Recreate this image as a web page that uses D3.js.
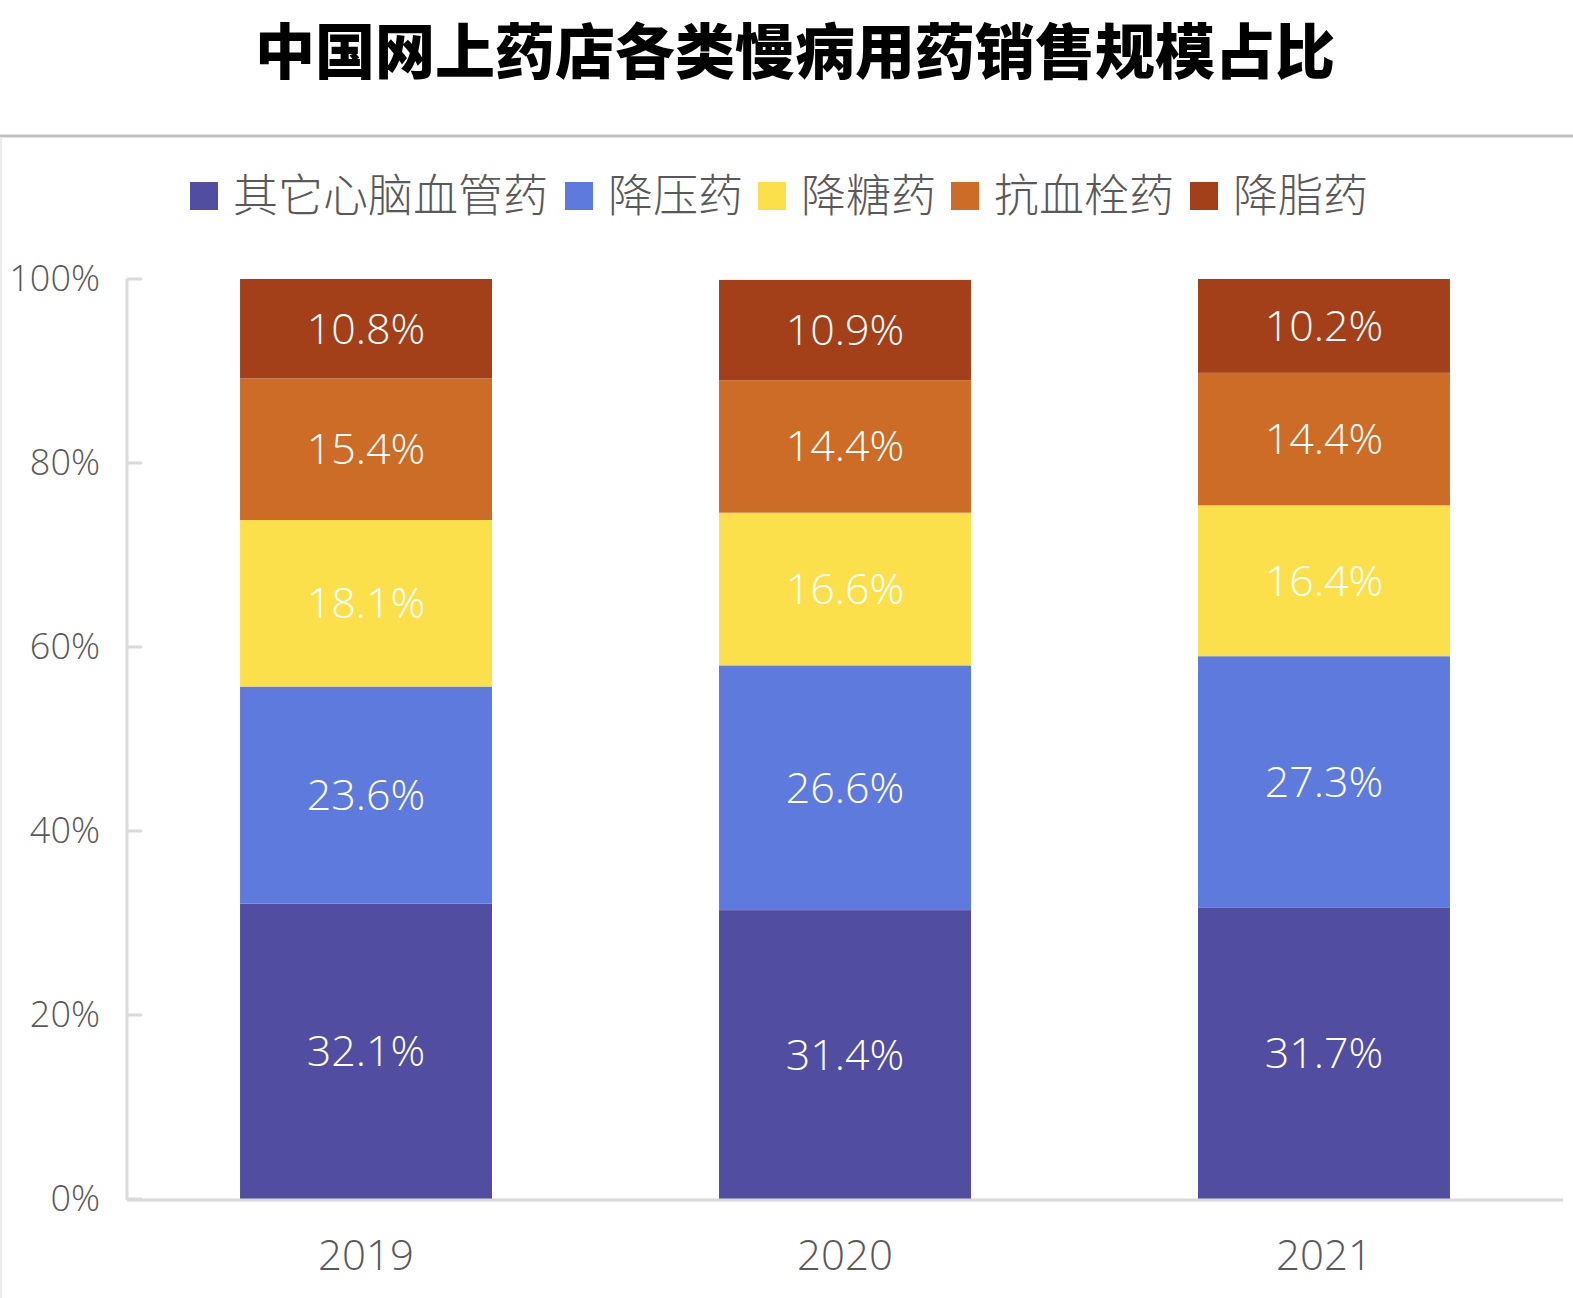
<!DOCTYPE html>
<html>
<head>
<meta charset="utf-8">
<script src="https://cdn.jsdelivr.net/npm/d3@7"></script>
<style>
body { margin: 0; background: #fff; }
svg text { font-family: "Open Sans", "Noto Sans CJK SC", sans-serif; }
</style>
</head>
<body>
<section></section>
<script>
var years = ["2019", "2020", "2021"];
var series = ["其它心脑血管药", "降压药", "降糖药", "抗血栓药", "降脂药"];
var colors = ["#514da1", "#5e7adc", "#fce04b", "#cc6c26", "#a33f19"];
var other_cv = [32.1, 31.4, 31.7];
var antihyper = [23.6, 26.6, 27.3];
var antidiab = [18.1, 16.6, 16.4];
var antithromb = [15.4, 14.4, 14.4];
var lipid = [10.8, 10.9, 10.2];
var y_ticks = [0, 20, 40, 60, 80, 100];

var values = [other_cv, antihyper, antidiab, antithromb, lipid];

// one row per year, for d3.stack
var rows = years.map(function(y, i) {
    var r = {year: y};
    series.forEach(function(s, j) { r[s] = values[j][i]; });
    return r;
});

var width = 1573, height = 1298;
var margin = {top: 279, right: 10, bottom: 99, left: 127};

var svg = d3.select("section").append("svg")
    .attr("width", width)
    .attr("height", height);

// title
svg.append("text")
    .attr("x", 795)
    .attr("y", 74)
    .attr("text-anchor", "middle")
    .style("font-family", "'Noto Sans CJK SC', sans-serif")
    .attr("font-size", 60)
    .attr("font-weight", 900)
    .attr("fill", "#000")
    .text("中国网上药店各类慢病用药销售规模占比");

svg.append("line")
    .attr("x1", 0).attr("x2", width)
    .attr("y1", 136).attr("y2", 136)
    .attr("stroke", "#c3c3c3")
    .attr("stroke-width", 3);

svg.append("line")
    .attr("x1", 1).attr("x2", 1)
    .attr("y1", 137).attr("y2", height)
    .attr("stroke", "#ececec")
    .attr("stroke-width", 2);

var x = d3.scaleBand()
    .domain(years)
    .range([margin.left, width - margin.right])
    .paddingInner(0.474)
    .paddingOuter(0.236);

var y = d3.scaleLinear()
    .domain([0, 100])
    .range([height - margin.bottom, margin.top]);

var color = d3.scaleOrdinal().domain(series).range(colors);

var stacked = d3.stack().keys(series)(rows);

// y axis
var yAxis = d3.axisLeft(y)
    .tickValues(y_ticks)
    .tickSize(0)
    .tickPadding(27)
    .tickFormat(function(d) { return d + "%"; });

var gy = svg.append("g")
    .attr("transform", "translate(" + margin.left + ",0)")
    .call(yAxis);
gy.select(".domain").remove();
gy.selectAll("text")
    .attr("font-size", 36)
    .attr("font-weight", 300)
    .attr("fill", "#595959");

svg.append("line")
    .attr("x1", margin.left).attr("x2", margin.left)
    .attr("y1", y(100)).attr("y2", y(0) + 1)
    .attr("stroke", "#d9d9d9")
    .attr("stroke-width", 3);

svg.append("g").selectAll("line")
    .data(y_ticks)
    .enter().append("line")
    .attr("x1", margin.left).attr("x2", margin.left + 15)
    .attr("y1", function(d) { return y(d); })
    .attr("y2", function(d) { return y(d); })
    .attr("stroke", "#d9d9d9")
    .attr("stroke-width", 3);

// bars
var layer = svg.append("g").selectAll("g")
    .data(stacked)
    .enter().append("g")
    .attr("fill", function(d) { return color(d.key); });

layer.selectAll("rect")
    .data(function(d) { return d; })
    .enter().append("rect")
    .attr("x", function(d) { return x(d.data.year); })
    .attr("y", function(d) { return y(d[1]); })
    .attr("width", x.bandwidth())
    .attr("height", function(d) { return y(d[0]) - y(d[1]); });

// x axis
svg.append("line")
    .attr("x1", margin.left).attr("x2", width - margin.right)
    .attr("y1", y(0) + 1).attr("y2", y(0) + 1)
    .attr("stroke", "#d9d9d9")
    .attr("stroke-width", 3);

var xAxis = d3.axisBottom(x).tickSize(0).tickPadding(41);
var gx = svg.append("g")
    .attr("transform", "translate(0," + y(0) + ")")
    .call(xAxis);
gx.select(".domain").remove();
gx.selectAll("text")
    .attr("font-size", 42)
    .attr("font-weight", 300)
    .attr("fill", "#595959");

// value labels
layer.selectAll("text")
    .data(function(d) { return d; })
    .enter().append("text")
    .attr("x", function(d) { return x(d.data.year) + x.bandwidth() / 2; })
    .attr("y", function(d) { return (y(d[0]) + y(d[1])) / 2; })
    .attr("dy", "0.35em")
    .attr("text-anchor", "middle")
    .attr("font-size", 43)
    .attr("font-weight", 300)
    .attr("fill", "#fff")
    .text(function(d) { return d3.format(".1f")(d[1] - d[0]) + "%"; });

// legend
var legend_x = [190, 565, 758, 951, 1190];
var lg = svg.append("g").selectAll("g")
    .data(series)
    .enter().append("g")
    .attr("transform", function(d, i) { return "translate(" + legend_x[i] + ",182)"; });
lg.append("rect")
    .attr("width", 28).attr("height", 28)
    .attr("fill", function(d) { return color(d); });
lg.append("text")
    .attr("x", 43)
    .attr("y", 14)
    .attr("dy", "0.36em")
    .style("font-family", "'Noto Sans CJK SC', sans-serif")
    .attr("font-size", 45)
    .attr("font-weight", 300)
    .attr("fill", "#595959")
    .text(function(d) { return d; });
</script>
</body>
</html>
